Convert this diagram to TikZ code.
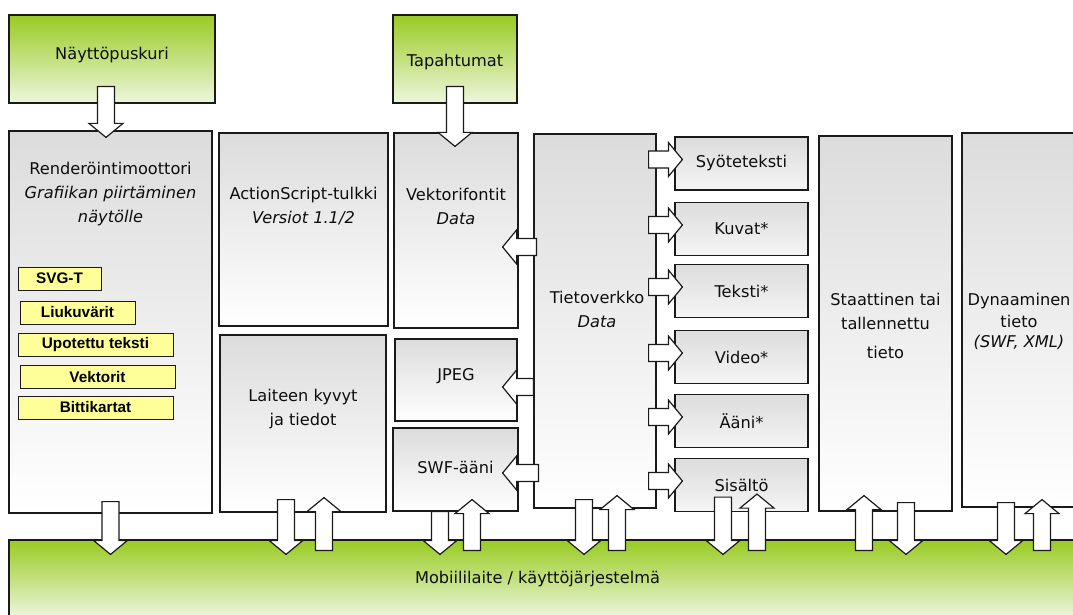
\documentclass[tikz,border=0pt]{standalone}
\usepackage{fontspec}
\setsansfont{DejaVu Sans}
\newfontfamily\tagfamily{Liberation Sans}
\definecolor{flashInk}{HTML}{0E0E0E}
\definecolor{flashLine}{HTML}{1A1A1A}
\definecolor{flashGrey}{HTML}{DCDCDC}
\definecolor{flashGreen}{HTML}{99CB22}
\definecolor{flashPale}{HTML}{EEF6DE}
\definecolor{flashYellow}{HTML}{FFFF99}
\usetikzlibrary{calc}
\tikzset{
  every picture/.append style={font=\sffamily\fontsize{16.2}{24}\selectfont},
  greybox/.style={rectangle,draw=flashLine,line width=1.2pt,top color=flashGrey,bottom color=white,inner sep=0pt},
  subbox/.style={rectangle,draw=flashLine,line width=1.2pt,top color=flashGrey,bottom color=white!96!black,inner sep=0pt,minimum width=133pt,minimum height=53pt,text=flashInk},
  greenbox/.style={rectangle,draw=flashLine,line width=1.2pt,top color=flashGreen,bottom color=flashPale,inner sep=0pt},
  tagbox/.style={rectangle,draw=flashLine,line width=1pt,fill=flashYellow,inner sep=0pt,minimum height=23pt,text=black,font=\tagfamily\bfseries\fontsize{15.3}{18}\selectfont},
  boxtext/.style={align=center,inner sep=0pt,text=flashInk},
  fat/.style={draw=flashLine,fill=white,line width=1.2pt,line join=miter,
    to path={let \p1=(\tikztostart), \p2=(\tikztotarget), \p3=($(\p2)!14pt!(\p1)$) in
      ($(\p1)!8.5pt!90:(\p2)$) -- ($(\p3)!8.5pt!90:(\p2)$) -- ($(\p3)!17pt!90:(\p2)$)
      -- (\p2) -- ($(\p3)!17pt!-90:(\p2)$) -- ($(\p3)!8.5pt!-90:(\p2)$)
      -- ($(\p1)!8.5pt!-90:(\p2)$) -- cycle}},
}

\begin{document}
\begin{tikzpicture}[x=1pt,y=-1pt]
  \clip (0,0) rectangle (1073,615);

  % sources on top
  \node[greenbox, minimum width=206pt, minimum height=88pt] (nayt) at (112,59) {};
  \node[boxtext] (naytTxt) at ($(nayt.center)+(0,-4)$) {Näyttöpuskuri};
  \node[greenbox, minimum width=124pt, minimum height=88pt] (tapa) at (455,59) {};
  \node[boxtext] (tapaTxt) at ($(tapa.center)+(0,3)$) {Tapahtumat};

  % player blocks
  \node[greybox, minimum width=203pt, minimum height=382pt] (rend) at (110.5,322) {};
  \node[boxtext] (rendTxt) at ($(rend.north)+(0,63.5)$) {Renderöintimoottori\\\textit{Grafiikan piirtäminen}\\\textit{näytölle}};
  \node[greybox, minimum width=169pt, minimum height=193pt] (acts) at (303.5,229.5) {};
  \node[boxtext] (actsTxt) at ($(acts.north)+(0,74)$) {ActionScript-tulkki\\\textit{Versiot 1.1/2}};
  \node[greybox, minimum width=166pt, minimum height=177pt] (laite) at (303,423.5) {};
  \node[boxtext] (laiteTxt) at ($(laite.north)+(0,75)$) {Laiteen kyvyt\\ja tiedot};
  \node[greybox, minimum width=124pt, minimum height=195pt] (vekt) at (456,230.5) {};
  \node[boxtext] (vektTxt) at ($(vekt.north)+(0,74)$) {Vektorifontit\\\textit{Data}};
  \node[greybox, minimum width=122pt, minimum height=82pt] (jpeg) at (456,380) {};
  \node[boxtext] (jpegTxt) at ($(jpeg.center)+(0,-4)$) {JPEG};
  \node[greybox, minimum width=125pt, minimum height=83pt] (swf) at (455.5,469.5) {};
  \node[boxtext] (swfTxt) at ($(swf.center)+(0,-2.5)$) {SWF-ääni};
  \node[greybox, minimum width=122pt, minimum height=374pt] (tiet) at (595,321) {};
  \node[boxtext] (tietTxt) at ($(tiet.center)+(2,-12)$) {Tietoverkko\\\textit{Data}};
  \node[greybox, minimum width=133pt, minimum height=375pt] (staat) at (885.5,323.5) {};
  \node[boxtext] (staatTxt) at ($(staat.center)+(0,2)$) {Staattinen tai\\tallennettu\\[5pt]tieto};
  \node[greybox, minimum width=128pt, minimum height=374pt] (dyn) at (1026,320) {};
  \node[boxtext] (dynTxt) at ($(dyn.center)+(-7,1)$) {Dynaaminen\\[-2pt]tieto\\[-4pt]\textit{(SWF, XML)}};

  % yellow tags in the renderer
  \foreach \n/\x/\y/\w/\t in {svg/59.5/278.5/83/SVG-T, liuku/77.5/312.5/115/Liukuvärit,
      upot/95.5/345/155/Upotettu teksti, vekto/97.5/377/155/Vektorit, bitti/95.5/407.5/155/Bittikartat}
    \node[tagbox, minimum width=\w pt] (\n) at (\x,\y) {\t};

  % network content
  \foreach \n/\y/\t in {syot/163.5/Syöteteksti, kuvat/229/Kuvat*, teksti/291/Teksti*,
      video/357/Video*, aani/421/Ääni*, sisalto/485/Sisältö}
    \node[subbox] (\n) at (741.5,\y) {\t};

  % system
  \node[greenbox, minimum width=1081pt, minimum height=78pt] (base) at (549.5,579) {};
  \node[boxtext] (baseTxt) at ($(base.north)+(-12,40)$) {Mobiililaite / käyttöjärjestelmä};

  % arrows
  \draw[fat] ($(nayt.south)+(-6,-17)$) to ($(rend.north)+(-4.5,7)$);
  \draw[fat] ($(tapa.south)+(0,-17)$) to ($(vekt.north)+(-1,14)$);

  \draw[fat] ($(tiet.west |- vekt.east)+(3,16.5)$) to ($(vekt.east)+(-16,16.5)$);
  \draw[fat] ($(tiet.west |- jpeg.east)+(0,7)$) to ($(jpeg.east)+(-15,7)$);
  \draw[fat] ($(tiet.west |- swf.east)+(5,3.5)$) to ($(swf.east)+(-16,3.5)$);

  \foreach \n in {syot,kuvat,teksti,video,aani,sisalto}
    \draw[fat] ($(tiet.east |- \n.west)+(-8,-4)$) to ($(\n.west)+(8,-4)$);

  \foreach \b/\dx/\dy in {rend/0/-12, laite/-17/-13, swf/-15.5/0, tiet/-11/-9,
      sisalto/-18.5/-15, staat/20.5/-9, dyn/-20/-5}
    \draw[fat] ($(\b.south)+(\dx,\dy)$) to ($(\b.south |- base.north)+(\dx,15)$);
  \foreach \b/\dx/\dy in {laite/21/-15, swf/16.5/-12, tiet/22/-13,
      sisalto/15.5/-18, staat/-21.5/-16, dyn/16/-8}
    \draw[fat] ($(\b.south |- base.north)+(\dx,11)$) to ($(\b.south)+(\dx,\dy)$);
\end{tikzpicture}
\end{document}
